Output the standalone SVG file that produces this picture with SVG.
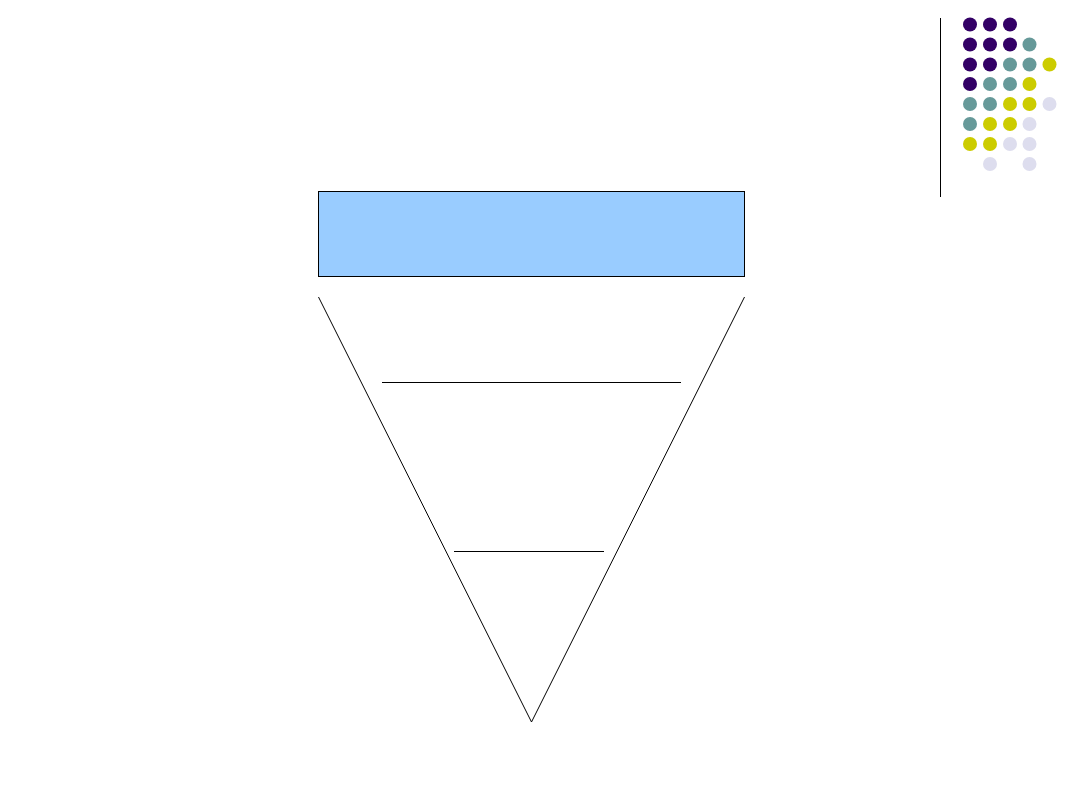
<svg xmlns="http://www.w3.org/2000/svg" width="1080" height="810" viewBox="0 0 1080 810">
<style>
.p{fill:#330066}.t{fill:#669999}.y{fill:#CCCC00}.l{fill:#DDDDEE}
.ln{stroke:#000;stroke-width:1;fill:none}
</style>
<rect width="1080" height="810" fill="#fff"/>
<g id="dots">
<line class="ln" x1="940.5" y1="18" x2="940.5" y2="197"/>
<circle class="p" cx="970" cy="24.5" r="7"/><circle class="p" cx="990" cy="24.5" r="7"/><circle class="p" cx="1010" cy="24.5" r="7"/>
<circle class="p" cx="970" cy="44.5" r="7"/><circle class="p" cx="990" cy="44.5" r="7"/><circle class="p" cx="1010" cy="44.5" r="7"/><circle class="t" cx="1029.5" cy="44.5" r="7"/>
<circle class="p" cx="970" cy="64.5" r="7"/><circle class="p" cx="990" cy="64.5" r="7"/><circle class="t" cx="1010" cy="64.5" r="7"/><circle class="t" cx="1029.5" cy="64.5" r="7"/><circle class="y" cx="1049.5" cy="64.5" r="7"/>
<circle class="p" cx="970" cy="84" r="7"/><circle class="t" cx="990" cy="84" r="7"/><circle class="t" cx="1010" cy="84" r="7"/><circle class="y" cx="1029.5" cy="84" r="7"/>
<circle class="t" cx="970" cy="104" r="7"/><circle class="t" cx="990" cy="104" r="7"/><circle class="y" cx="1010" cy="104" r="7"/><circle class="y" cx="1029.5" cy="104" r="7"/><circle class="l" cx="1049.5" cy="104" r="7"/>
<circle class="t" cx="970" cy="124" r="7"/><circle class="y" cx="990" cy="124" r="7"/><circle class="y" cx="1010" cy="124" r="7"/><circle class="l" cx="1029.5" cy="124" r="7"/>
<circle class="y" cx="970" cy="144" r="7"/><circle class="y" cx="990" cy="144" r="7"/><circle class="l" cx="1010" cy="144" r="7"/><circle class="l" cx="1029.5" cy="144" r="7"/>
<circle class="l" cx="990" cy="164" r="7"/><circle class="l" cx="1029.5" cy="164" r="7"/>
</g>
<g id="box">
<rect x="318.5" y="191.5" width="426" height="85" fill="#99CCFF" stroke="#000" stroke-width="1"/>
</g>
<g id="funnel">
<line class="ln" x1="318.5" y1="297" x2="531.5" y2="722"/>
<line class="ln" x1="744.5" y1="297" x2="531.5" y2="722"/>
<line class="ln" x1="382" y1="382.5" x2="681" y2="382.5"/>
<line class="ln" x1="454" y1="551.5" x2="604" y2="551.5"/>
</g>
</svg>
